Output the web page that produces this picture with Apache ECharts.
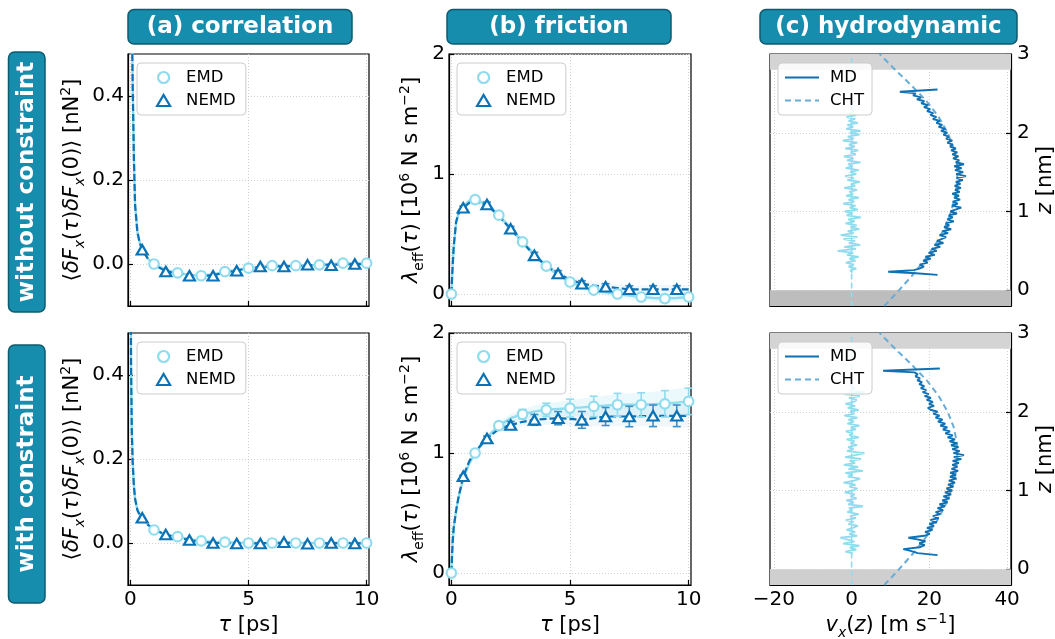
<!DOCTYPE html>
<html><head><meta charset="utf-8">
<script src="https://cdn.jsdelivr.net/npm/echarts@6/dist/echarts.min.js"></script>
<style>html,body{margin:0;padding:0;background:#fff}#c{width:1055px;height:639px}</style>
</head><body><div id="c"></div>
<script>
// ================= DATA =================
const panelTitles = ['(a) correlation', '(b) friction', '(c) hydrodynamic'];
const rowLabels = ['without constraint', 'with constraint'];

const tauTicks = [0, 5, 10];
const corrTicks = [0.0, 0.2, 0.4];
const fricTicks = [0, 1, 2];
const velTicks = [-20, 0, 20, 40];
const zTicks = [0, 1, 2, 3];

// markers
const tauEMDa = [1, 2, 3, 4, 5, 6, 7, 8, 9, 10];
const tauEMDb = [0, 1, 2, 3, 4, 5, 6, 7, 8, 9, 10];
const tauNEMD = [0.5, 1.5, 2.5, 3.5, 4.5, 5.5, 6.5, 7.5, 8.5, 9.5];

const corrEMD_free = [0.0, -0.021, -0.028, -0.018, -0.010, -0.004, -0.004, -0.002, 0.002, 0.002];
const corrNEMD_free = [0.034, -0.018, -0.028, -0.028, -0.016, -0.006, -0.006, -0.002, -0.003, 0.0];
const corrEMD_con = [0.031, 0.015, 0.005, 0.002, 0.0, 0.0, 0.0, 0.0, 0.0, 0.0];
const corrNEMD_con = [0.060, 0.020, 0.007, 0.0, -0.001, -0.001, 0.002, -0.002, 0.0, -0.001];

const fricEMD_free = [0.0, 0.787, 0.657, 0.435, 0.233, 0.10, 0.033, 0.0, -0.025, -0.038, -0.025];
const fricNEMD_free = [0.718, 0.746, 0.543, 0.322, 0.170, 0.086, 0.061, 0.039, 0.039, 0.039];
const fricEMD_con = [0.0, 1.0, 1.228, 1.323, 1.36, 1.374, 1.388, 1.402, 1.402, 1.41, 1.43];
const fricNEMD_con = [0.806, 1.121, 1.233, 1.276, 1.29, 1.276, 1.304, 1.304, 1.31, 1.31];

const errEMD_free = [0, 0.01, 0.015, 0.015, 0.015, 0.02, 0.02, 0.02, 0.025, 0.025, 0.025];
const errNEMD_free = [0.015, 0.02, 0.02, 0.025, 0.025, 0.025, 0.025, 0.03, 0.03, 0.03];
const errEMD_con = [0, 0.015, 0.025, 0.04, 0.055, 0.075, 0.085, 0.095, 0.1, 0.11, 0.11];
const errNEMD_con = [0.01, 0.02, 0.03, 0.045, 0.055, 0.07, 0.075, 0.085, 0.09, 0.09];

// continuous curves
const curveTauA = [0, 0.03, 0.06, 0.1, 0.15, 0.2, 0.3, 0.4, 0.5, 0.75, 1, 1.5, 2, 2.5, 3, 3.5, 4, 4.5, 5, 6, 7, 8, 9, 10];
const corrCurveEMD_free = [1.0, 0.75, 0.6, 0.42, 0.25, 0.14, 0.075, 0.05, 0.034, 0.012, 0.0, -0.014, -0.021, -0.026, -0.028, -0.025, -0.018, -0.014, -0.010, -0.004, -0.004, -0.002, 0.002, 0.002];
const corrCurveNEMD_free = [1.0, 0.75, 0.6, 0.42, 0.25, 0.14, 0.075, 0.05, 0.034, 0.012, -0.002, -0.017, -0.023, -0.027, -0.028, -0.027, -0.02, -0.016, -0.009, -0.006, -0.005, -0.002, -0.001, 0.0];
const corrCurveEMD_con = [0.75, 0.42, 0.27, 0.19, 0.135, 0.105, 0.078, 0.067, 0.06, 0.043, 0.031, 0.02, 0.015, 0.009, 0.005, 0.003, 0.002, 0.001, 0.0, 0.0, 0.0, 0.0, 0.0, 0.0];
const corrCurveNEMD_con = [0.75, 0.42, 0.27, 0.19, 0.135, 0.105, 0.078, 0.067, 0.06, 0.043, 0.032, 0.02, 0.013, 0.007, 0.003, 0.0, 0.0, -0.001, -0.001, 0.0, 0.001, -0.001, 0.0, -0.001];

const curveTauB = [0, 0.05, 0.1, 0.2, 0.3, 0.5, 0.75, 1, 1.5, 2, 2.5, 3, 3.5, 4, 4.5, 5, 5.5, 6, 6.5, 7, 7.5, 8, 8.5, 9, 9.5, 10];
const fricCurveEMD_free = [0, 0.22, 0.40, 0.60, 0.67, 0.73, 0.775, 0.787, 0.745, 0.657, 0.545, 0.435, 0.33, 0.233, 0.16, 0.10, 0.06, 0.033, 0.015, 0.0, -0.014, -0.025, -0.033, -0.038, -0.033, -0.025];
const fricCurveNEMD_free = [0, 0.22, 0.40, 0.60, 0.67, 0.718, 0.76, 0.77, 0.746, 0.65, 0.543, 0.43, 0.322, 0.235, 0.170, 0.12, 0.086, 0.07, 0.061, 0.05, 0.039, 0.039, 0.039, 0.039, 0.039, 0.039];
const fricCurveEMD_con = [0, 0.25, 0.38, 0.52, 0.63, 0.78, 0.91, 1.0, 1.13, 1.228, 1.29, 1.323, 1.345, 1.36, 1.367, 1.374, 1.38, 1.388, 1.395, 1.402, 1.402, 1.402, 1.406, 1.41, 1.42, 1.43];
const fricCurveNEMD_con = [0, 0.25, 0.38, 0.52, 0.63, 0.806, 0.93, 1.01, 1.121, 1.2, 1.233, 1.26, 1.276, 1.285, 1.29, 1.285, 1.276, 1.29, 1.304, 1.304, 1.304, 1.307, 1.31, 1.31, 1.31, 1.31];

const bandErr_free = [0, 0.01, 0.015, 0.02, 0.02, 0.02, 0.02, 0.02, 0.025, 0.025, 0.025, 0.025, 0.025, 0.025, 0.025, 0.025, 0.03, 0.03, 0.03, 0.03, 0.03, 0.03, 0.035, 0.035, 0.035, 0.035];
const bandErrEMD_con = [0, 0.005, 0.01, 0.01, 0.015, 0.015, 0.02, 0.02, 0.025, 0.03, 0.035, 0.04, 0.05, 0.055, 0.06, 0.07, 0.075, 0.08, 0.085, 0.09, 0.095, 0.1, 0.105, 0.11, 0.115, 0.12];
const bandErrNEMD_con = [0, 0.005, 0.01, 0.01, 0.015, 0.015, 0.02, 0.02, 0.025, 0.03, 0.035, 0.04, 0.045, 0.05, 0.055, 0.06, 0.065, 0.07, 0.075, 0.08, 0.085, 0.085, 0.09, 0.09, 0.095, 0.1];

// velocity profiles, pairs [z (nm), v (m/s)]
const mdFree = [[0.195,22.1],[0.215,16.5],[0.235,9.4],[0.255,16.0],[0.275,17.4],[0.3,18.6],[0.325,17.5],[0.35,19.6],[0.375,18.4],[0.4,20.3],[0.425,19.0],[0.45,21.4],[0.475,19.8],[0.5,21.9],[0.525,20.6],[0.55,22.8],[0.575,21.3],[0.6,23.6],[0.625,22.0],[0.65,23.1],[0.675,24.3],[0.7,22.6],[0.725,24.8],[0.75,23.4],[0.775,25.6],[0.8,23.8],[0.825,25.1],[0.85,24.2],[0.875,26.3],[0.9,24.6],[0.925,26.0],[0.95,25.0],[0.975,27.1],[1.0,25.4],[1.025,26.7],[1.05,28.2],[1.075,25.8],[1.1,27.3],[1.125,26.0],[1.15,27.9],[1.175,26.4],[1.2,27.6],[1.225,25.9],[1.25,27.8],[1.275,26.6],[1.3,28.1],[1.325,26.5],[1.35,28.0],[1.375,26.8],[1.4,28.6],[1.425,27.0],[1.45,29.4],[1.475,26.9],[1.5,28.7],[1.525,26.6],[1.55,28.3],[1.575,26.4],[1.6,28.9],[1.625,26.8],[1.65,27.7],[1.675,26.1],[1.7,27.5],[1.725,25.9],[1.75,27.2],[1.775,25.6],[1.8,26.8],[1.825,25.3],[1.85,26.0],[1.875,24.6],[1.9,25.9],[1.925,24.3],[1.95,25.0],[1.975,23.6],[2.0,24.6],[2.025,23.0],[2.05,24.1],[2.075,22.4],[2.1,23.3],[2.125,21.8],[2.15,22.7],[2.175,20.9],[2.2,21.8],[2.225,20.3],[2.25,21.0],[2.275,19.4],[2.3,20.2],[2.325,18.6],[2.35,19.7],[2.375,17.9],[2.4,18.7],[2.425,16.8],[2.45,17.9],[2.475,15.8],[2.5,16.5],[2.52,12.4],[2.55,22.1]];
const lateralFree = [[0.225,0.3],[0.25,-0.4],[0.275,1.2],[0.3,-0.8],[0.325,0.6],[0.35,-1.5],[0.375,1.0],[0.4,-0.6],[0.425,1.8],[0.45,-1.2],[0.475,0.4],[0.5,-3.6],[0.525,1.1],[0.55,-1.9],[0.575,2.2],[0.6,-0.7],[0.625,0.9],[0.65,-2.1],[0.675,1.5],[0.7,-2.8],[0.725,0.5],[0.75,-1.0],[0.775,2.0],[0.8,-0.3],[0.825,1.3],[0.85,-1.6],[0.875,0.8],[0.9,-0.9],[0.925,2.4],[0.95,-1.3],[0.975,0.2],[1.0,-1.8],[1.025,1.6],[1.05,-0.5],[1.075,1.0],[1.1,-2.2],[1.125,0.7],[1.15,-0.8],[1.175,1.9],[1.2,-1.4],[1.225,0.4],[1.25,-0.6],[1.275,1.4],[1.3,-1.9],[1.325,0.9],[1.35,-0.2],[1.375,2.1],[1.4,-1.1],[1.425,0.6],[1.45,-1.7],[1.475,1.2],[1.5,-0.4],[1.525,1.8],[1.55,-1.5],[1.575,0.3],[1.6,-0.9],[1.625,2.3],[1.65,-1.2],[1.675,0.5],[1.7,-2.0],[1.725,1.1],[1.75,-0.3],[1.775,1.7],[1.8,-1.6],[1.825,0.8],[1.85,-0.7],[1.875,1.5],[1.9,-2.3],[1.925,0.6],[1.95,-1.0],[1.975,2.0],[2.0,-0.5],[2.025,2.3],[2.05,-1.4],[2.075,0.4],[2.1,-1.1],[2.125,1.6],[2.15,-0.8],[2.175,0.9],[2.2,-1.3],[2.225,1.2],[2.25,-0.6],[2.275,0.5],[2.3,-0.2],[2.325,0.3],[2.35,0.0]];
const mdCon = [[0.18,22.1],[0.205,17.0],[0.23,15.4],[0.255,13.3],[0.28,17.6],[0.305,18.8],[0.33,17.4],[0.355,19.0],[0.38,16.9],[0.4,14.6],[0.425,18.7],[0.45,20.1],[0.475,18.9],[0.5,20.8],[0.525,19.4],[0.55,21.2],[0.575,20.0],[0.6,21.9],[0.625,20.3],[0.65,22.4],[0.675,20.9],[0.7,22.8],[0.725,21.6],[0.75,23.5],[0.775,22.1],[0.8,24.0],[0.825,22.6],[0.85,24.7],[0.875,23.3],[0.9,25.2],[0.925,23.6],[0.95,25.6],[0.975,24.0],[1.0,25.9],[1.025,24.4],[1.05,26.2],[1.075,24.8],[1.1,26.6],[1.125,25.0],[1.15,27.0],[1.175,25.3],[1.2,26.8],[1.225,25.4],[1.25,27.4],[1.275,25.7],[1.3,27.2],[1.325,25.9],[1.35,27.6],[1.375,26.0],[1.4,28.2],[1.425,26.3],[1.45,28.9],[1.475,26.2],[1.5,27.8],[1.525,25.9],[1.55,27.5],[1.575,25.6],[1.6,27.1],[1.625,25.2],[1.65,26.6],[1.675,24.7],[1.7,26.0],[1.725,24.1],[1.75,25.3],[1.775,23.5],[1.8,24.6],[1.825,22.8],[1.85,24.1],[1.875,22.2],[1.9,23.4],[1.925,21.6],[1.95,22.6],[1.975,21.0],[2.0,22.1],[2.025,20.3],[2.05,19.6],[2.075,21.2],[2.1,19.9],[2.125,20.9],[2.15,19.3],[2.175,20.4],[2.2,18.8],[2.225,19.8],[2.25,18.3],[2.275,19.2],[2.3,17.8],[2.325,18.7],[2.35,17.4],[2.375,18.1],[2.4,16.9],[2.425,17.6],[2.45,16.4],[2.475,17.0],[2.5,16.2],[2.52,8.1],[2.55,22.7]];
const lateralCon = [[0.2,0.4],[0.225,-1.6],[0.25,1.2],[0.275,-0.5],[0.3,2.0],[0.325,-2.2],[0.35,0.7],[0.375,-1.0],[0.4,-2.9],[0.425,1.4],[0.45,-0.6],[0.475,0.9],[0.5,-1.3],[0.525,0.3],[0.55,1.6],[0.575,-0.8],[0.6,0.5],[0.625,-1.5],[0.65,1.1],[0.675,-0.4],[0.7,1.8],[0.725,-1.1],[0.75,0.2],[0.775,-0.7],[0.8,2.9],[0.825,-0.9],[0.85,0.6],[0.875,-1.4],[0.9,1.3],[0.925,-0.3],[0.95,0.8],[0.975,-1.8],[1.0,0.4],[1.025,1.5],[1.05,-0.6],[1.075,1.0],[1.1,-2.1],[1.125,0.7],[1.15,2.2],[1.175,-1.0],[1.2,0.3],[1.225,-1.6],[1.25,2.9],[1.275,-0.8],[1.3,1.7],[1.325,-2.0],[1.35,0.9],[1.375,-0.5],[1.4,2.4],[1.425,-1.7],[1.45,1.0],[1.475,3.3],[1.5,-1.2],[1.525,0.5],[1.55,-0.9],[1.575,1.4],[1.6,-0.3],[1.625,0.8],[1.65,-1.3],[1.675,1.9],[1.7,-0.6],[1.725,0.4],[1.75,-1.5],[1.775,1.1],[1.8,-0.2],[1.825,2.0],[1.85,-1.1],[1.875,0.6],[1.9,-0.8],[1.925,1.5],[1.95,-1.9],[1.975,0.7],[2.0,-0.4],[2.025,1.8],[2.05,-1.0],[2.075,0.9],[2.1,-1.6],[2.125,0.5],[2.15,1.3],[2.175,-0.7],[2.2,2.1],[2.225,-1.8],[2.25,3.3],[2.275,-0.5],[2.3,0.9],[2.325,-0.3],[2.35,0.2]];

const zCHT = [-0.2, 0.0, 0.2, 0.4, 0.6, 0.8, 1.0, 1.2, 1.4, 1.6, 1.8, 2.0, 2.2, 2.4, 2.6, 2.8, 3.0];
const vCHT = [8.4, 12.2, 15.8, 19.0, 21.8, 24.0, 25.6, 26.7, 27.2, 27.1, 26.3, 24.7, 22.4, 19.3, 15.4, 11.2, 7.2];
const zZeroLine = [-0.2, 3.0];
const vZeroLine = [0, 0];
const wallUpper = [2.8, 3.0];
const wallLower = [-0.2, 0.0];

// ================= STYLE / LAYOUT =================
const FONT = 'DejaVu Sans';
const C_EMD = '#8fdcef', C_NEMD = '#0b72b5', C_CHT = '#68acd6', C_MD = '#1070b2', C_ERRN = '#3f8fc6';
const TEAL = '#178dad', TEAL_EDGE = '#0e5a6e';
const ROW_TOPS = [54, 333], H = 252;
const COLS = [{left: 128, width: 241}, {left: 449, width: 242}, {left: 770, width: 241}];

const rich = {
  n: {fontFamily: FONT, fontSize: 21, color: '#000', lineHeight: 28},
  i: {fontFamily: FONT, fontSize: 21, fontStyle: 'italic', color: '#000', lineHeight: 28},
  s: {fontFamily: FONT, fontSize: 14, fontStyle: 'italic', color: '#000', verticalAlign: 'bottom'},
  r: {fontFamily: FONT, fontSize: 14, color: '#000', verticalAlign: 'bottom'},
  p: {fontFamily: FONT, fontSize: 14, color: '#000', verticalAlign: 'top'}
};
const nameCorr = '{n|⟨}{i|δF}{s|x}{n|(}{i|τ}{n|)}{i|δF}{s|x}{n|(0)⟩ [nN}{p|2}{n|]}';
const nameFric = '{i|λ}{r|eff}{n|(}{i|τ}{n|) [10}{p|6}{n| N s m}{p|−2}{n|]}';
const nameZ = '{i|z}{n| [nm]}';
const nameTau = '{i|τ}{n| [ps]}';
const nameVel = '{i|v}{s|x}{n|(}{i|z}{n|) [m s}{p|−1}{n|]}';

const minus = v => (v < 0 ? '\u2212' + Math.abs(v) : String(v));

const grids = [], xAxes = [], yAxes = [], legends = [], series = [];
const splitLine = {show: true, lineStyle: {color: '#cccccc', width: 0.9, type: [1, 2]}};

for (let r = 0; r < 2; r++) {
  for (let c = 0; c < 3; c++) {
    const gi = r * 3 + c;
    const bottom = r === 1;
    grids.push({left: COLS[c].left, top: ROW_TOPS[r], width: COLS[c].width, height: H,
      show: true, borderColor: '#000', borderWidth: 1.2, backgroundColor: 'rgba(0,0,0,0)',
      containLabel: false, outerBoundsMode: 'none'});
    const xt = c < 2 ? tauTicks : velTicks;
    xAxes.push({type: 'value', gridIndex: gi,
      min: c < 2 ? -0.1 : -21, max: c < 2 ? 10.1 : 41,
      axisLine: {show: true, onZero: false, lineStyle: {color: '#000', width: 1.2}},
      axisTick: {show: true, inside: true, length: 5, customValues: xt, lineStyle: {color: '#000', width: 1.2}},
      axisLabel: {show: bottom, customValues: xt, formatter: minus, color: '#000', fontFamily: FONT, fontSize: 20, margin: 5},
      splitLine: splitLine,
      name: bottom ? (c < 2 ? nameTau : nameVel) : '', nameLocation: 'middle', nameGap: 27,
      nameTextStyle: {rich: rich}});
    const yt = [corrTicks, fricTicks, zTicks][c];
    yAxes.push({type: 'value', gridIndex: gi, position: c === 2 ? 'right' : 'left',
      min: [-0.1, -0.1, -0.2][c], max: [0.5, 2, 3][c],
      axisLine: {show: true, onZero: false, lineStyle: {color: '#000', width: 1.2}},
      axisTick: {show: true, inside: true, length: 5, customValues: yt, lineStyle: {color: '#000', width: 1.2}},
      axisLabel: {show: true, customValues: yt, formatter: c === 0 ? (v => v.toFixed(1)) : minus,
        color: '#000', fontFamily: FONT, fontSize: 20, margin: c === 2 ? 6 : 4},
      splitLine: splitLine,
      name: [nameCorr, nameFric, nameZ][c], nameLocation: 'middle', nameRotate: 90,
      nameGap: [41, 23, 21][c], nameTextStyle: {rich: rich}});
  }
}

function lineS(gi, name, xs, ys, color, width, type, z) {
  return {type: 'line', name: name, xAxisIndex: gi, yAxisIndex: gi, data: xs.map((x, i) => [x, ys[i]]),
    symbol: 'none', showSymbol: false, smooth: false, clip: true, silent: true, z: z,
    lineStyle: {color: color, width: width, type: type}, itemStyle: {color: color}};
}
function scatterS(gi, name, xs, ys, isTri, z) {
  return {type: 'scatter', name: name, xAxisIndex: gi, yAxisIndex: gi, data: xs.map((x, i) => [x, ys[i]]),
    symbol: isTri ? 'triangle' : 'circle', symbolSize: isTri ? [11, 9.5] : 9.5, silent: true, z: z, clip: true,
    itemStyle: {color: '#ffffff', borderColor: isTri ? C_NEMD : C_EMD, borderWidth: 2.2, opacity: 1}};
}
function errS(gi, xs, ys, errs, color, z) {
  return {type: 'custom', xAxisIndex: gi, yAxisIndex: gi, z: z, silent: true,
    data: xs.map((x, i) => [x, ys[i] - errs[i], ys[i] + errs[i]]), encode: {x: 0, y: [1, 2]},
    renderItem: (p, api) => {
      const lo = api.coord([api.value(0), api.value(1)]);
      const hi = api.coord([api.value(0), api.value(2)]);
      const st = {stroke: color, lineWidth: 1.6};
      return {type: 'group', children: [
        {type: 'line', shape: {x1: lo[0], y1: lo[1], x2: hi[0], y2: hi[1]}, style: st},
        {type: 'line', shape: {x1: lo[0] - 4, y1: lo[1], x2: lo[0] + 4, y2: lo[1]}, style: st},
        {type: 'line', shape: {x1: hi[0] - 4, y1: hi[1], x2: hi[0] + 4, y2: hi[1]}, style: st}]};
    }};
}
function bandS(gi, xs, ys, errs, color, z) {
  return {type: 'custom', xAxisIndex: gi, yAxisIndex: gi, z: z, silent: true, data: [[xs[0], ys[0]]],
    renderItem: (p, api) => {
      const pts = [];
      xs.forEach((x, i) => pts.push(api.coord([x, ys[i] + errs[i]])));
      for (let i = xs.length - 1; i >= 0; i--) pts.push(api.coord([xs[i], ys[i] - errs[i]]));
      return {type: 'polygon', shape: {points: pts}, style: {fill: color}};
    }};
}
function wallS(gi, range, color) {
  return {type: 'custom', xAxisIndex: gi, yAxisIndex: gi, z: 1, silent: true,
    data: [[0, range[0], range[1]]], encode: {x: 0, y: [1, 2]},
    renderItem: (p, api) => {
      const cs = p.coordSys;
      const y1 = api.coord([0, api.value(2)])[1], y2 = api.coord([0, api.value(1)])[1];
      return {type: 'rect', shape: {x: cs.x, y: y1, width: cs.width, height: y2 - y1}, style: {fill: color}};
    }};
}

// (a) correlation
[[0, corrCurveEMD_free, corrCurveNEMD_free, corrEMD_free, corrNEMD_free],
 [3, corrCurveEMD_con, corrCurveNEMD_con, corrEMD_con, corrNEMD_con]].forEach(([gi, ce, cn, me, mn]) => {
  series.push(lineS(gi, 'EMD curve', curveTauA, ce, C_EMD, 2.4, 'solid', 3));
  series.push(lineS(gi, 'NEMD curve', curveTauA, cn, C_NEMD, 2.2, [7, 3], 4));
  series.push(scatterS(gi, 'EMD', tauEMDa, me, false, 10));
  series.push(scatterS(gi, 'NEMD', tauNEMD, mn, true, 11));
});
// (b) friction
[[1, fricCurveEMD_free, fricCurveNEMD_free, fricEMD_free, fricNEMD_free, bandErr_free, bandErr_free, errEMD_free, errNEMD_free],
 [4, fricCurveEMD_con, fricCurveNEMD_con, fricEMD_con, fricNEMD_con, bandErrEMD_con, bandErrNEMD_con, errEMD_con, errNEMD_con]]
 .forEach(([gi, ce, cn, me, mn, be, bn, ee, en]) => {
  series.push(bandS(gi, curveTauB, ce, be, 'rgba(143,220,239,0.17)', 1));
  series.push(bandS(gi, curveTauB, cn, bn, 'rgba(11,114,181,0.06)', 1));
  series.push(lineS(gi, 'EMD curve', curveTauB, ce, C_EMD, 2.4, 'solid', 3));
  series.push(lineS(gi, 'NEMD curve', curveTauB, cn, C_NEMD, 2.2, [7, 3], 4));
  series.push(errS(gi, tauEMDb, me, ee, C_EMD, 6));
  series.push(errS(gi, tauNEMD, mn, en, C_ERRN, 7));
  series.push(scatterS(gi, 'EMD', tauEMDb, me, false, 10));
  series.push(scatterS(gi, 'NEMD', tauNEMD, mn, true, 11));
});
// (c) hydrodynamic
[[2, mdFree, lateralFree, '#bdbdbd'], [5, mdCon, lateralCon, '#cfcfcf']].forEach(([gi, md, lat, lowCol]) => {
  series.push(wallS(gi, wallUpper, '#d4d4d4'));
  series.push(wallS(gi, wallLower, lowCol));
  series.push(lineS(gi, 'zero', vZeroLine, zZeroLine, C_EMD, 1.6, [5, 4], 2));
  series.push({type: 'line', name: 'lateral', xAxisIndex: gi, yAxisIndex: gi, data: lat.map(p => [p[1], p[0]]),
    symbol: 'none', showSymbol: false, silent: true, z: 3, clip: true,
    lineStyle: {color: C_EMD, width: 1.8}, itemStyle: {color: C_EMD}});
  series.push(lineS(gi, 'CHT', vCHT, zCHT, C_CHT, 2, [6, 4], 4));
  series.push({type: 'line', name: 'MD', xAxisIndex: gi, yAxisIndex: gi, data: md.map(p => [p[1], p[0]]),
    symbol: 'none', showSymbol: false, silent: true, z: 5, clip: true,
    lineStyle: {color: C_MD, width: 1.9}, itemStyle: {color: C_MD}});
});

// legends
for (let r = 0; r < 2; r++) {
  const top = ROW_TOPS[r] + 9;
  [[137, ['EMD', 'NEMD']], [457, ['EMD', 'NEMD']], [778, ['MD', 'CHT']]].forEach(([left, names], c) => {
    const isLine = c === 2;
    legends.push({data: names, left: left, top: top, orient: 'vertical', selectedMode: false,
      backgroundColor: 'rgba(255,255,255,0.85)', borderColor: '#cccccc', borderWidth: 1, borderRadius: 4,
      padding: isLine ? [6, 8, 6, 6] : [6, 10, 6, 19], itemGap: 6,
      itemWidth: isLine ? 34 : 13, itemHeight: isLine ? 14 : 11,
      itemStyle: isLine ? {color: 'rgba(0,0,0,0)', borderWidth: 0, opacity: 0} : {borderWidth: 2.2},
      lineStyle: isLine ? {width: 2} : {},
      textStyle: {fontFamily: FONT, fontSize: 16.5, color: '#000', padding: [0, 0, 0, isLine ? 6 : 11]}});
  });
}

// decorations: panel titles and row labels
const titleBoxes = [{x: 128, w: 224}, {x: 447, w: 224}, {x: 760, w: 257}];
const rowBoxes = [{y: 52, h: 260}, {y: 345, h: 258}];
const graphic = [];
panelTitles.forEach((t, i) => {
  const b = titleBoxes[i];
  graphic.push({type: 'rect', shape: {x: b.x, y: 9.5, width: b.w, height: 34.5, r: 6},
    style: {fill: TEAL, stroke: TEAL_EDGE, lineWidth: 1.5}, silent: true});
  graphic.push({type: 'text', x: b.x + b.w / 2, y: 27, silent: true,
    style: {text: t, fill: '#fff', font: 'bold 23px "DejaVu Sans"', textAlign: 'center', textVerticalAlign: 'middle', align: 'center', verticalAlign: 'middle'}});
});
rowLabels.forEach((t, i) => {
  const b = rowBoxes[i];
  graphic.push({type: 'rect', shape: {x: 8.5, y: b.y, width: 36.5, height: b.h, r: 6},
    style: {fill: TEAL, stroke: TEAL_EDGE, lineWidth: 1.5}, silent: true});
  graphic.push({type: 'text', x: 27, y: b.y + b.h / 2, rotation: Math.PI / 2, silent: true,
    style: {text: t, fill: '#fff', font: 'bold 23px "DejaVu Sans"', textAlign: 'center', textVerticalAlign: 'middle', align: 'center', verticalAlign: 'middle'}});
});

const chart = echarts.init(document.getElementById('c'), null, {renderer: 'canvas'});
chart.setOption({
  animation: false,
  backgroundColor: '#ffffff',
  textStyle: {fontFamily: FONT},
  grid: grids, xAxis: xAxes, yAxis: yAxes, legend: legends, graphic: graphic, series: series
});
</script></body></html>
